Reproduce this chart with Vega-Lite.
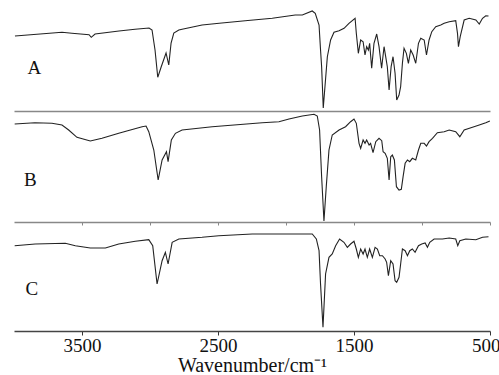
{
  "$schema": "https://vega.github.io/schema/vega-lite/v6.json",
  "padding": {"left": 12, "top": 0, "right": 0, "bottom": 0},
  "spacing": 0,
  "config": {"view": {"stroke": null}, "font": "Liberation Serif", "concat": {"spacing": 0}},
  "datasets": {
    "A": [
      {"wn":3993,"T":75},{"wn":3647,"T":78.7},{"wn":3574,"T":77.7},{"wn":3448,"T":76.3},{"wn":3432,"T":73.7},{"wn":3404,"T":77},{"wn":3228,"T":80},{"wn":3110,"T":81.7},{"wn":3007,"T":83},{"wn":2985,"T":81},{"wn":2963,"T":61},{"wn":2943,"T":33.7},{"wn":2918,"T":44},{"wn":2882,"T":58},{"wn":2862,"T":46},{"wn":2845,"T":68},{"wn":2825,"T":78},{"wn":2788,"T":81},{"wn":2764,"T":81.7},{"wn":2617,"T":86},{"wn":2491,"T":87.7},{"wn":2300,"T":90.3},{"wn":2101,"T":92.7},{"wn":1932,"T":96},{"wn":1880,"T":96},{"wn":1807,"T":100},{"wn":1785,"T":97.7},{"wn":1757,"T":86},{"wn":1746,"T":61},{"wn":1738,"T":44.3},{"wn":1726,"T":3},{"wn":1696,"T":54.3},{"wn":1672,"T":71},{"wn":1647,"T":78.7},{"wn":1610,"T":80.3},{"wn":1573,"T":82.7},{"wn":1537,"T":87.7},{"wn":1492,"T":92.7},{"wn":1483,"T":77.7},{"wn":1468,"T":57.7},{"wn":1451,"T":71},{"wn":1433,"T":69.3},{"wn":1419,"T":56},{"wn":1407,"T":64.3},{"wn":1394,"T":61},{"wn":1385,"T":67.7},{"wn":1370,"T":42.7},{"wn":1353,"T":67.7},{"wn":1333,"T":77},{"wn":1316,"T":64.3},{"wn":1297,"T":42.7},{"wn":1279,"T":64.3},{"wn":1267,"T":54.3},{"wn":1255,"T":44.3},{"wn":1242,"T":21},{"wn":1227,"T":44.3},{"wn":1213,"T":54.3},{"wn":1198,"T":37.7},{"wn":1186,"T":11},{"wn":1169,"T":16},{"wn":1157,"T":24.3},{"wn":1144,"T":47.7},{"wn":1132,"T":62.7},{"wn":1115,"T":57.7},{"wn":1100,"T":47.7},{"wn":1083,"T":61},{"wn":1065,"T":56},{"wn":1046,"T":47.7},{"wn":1026,"T":67.7},{"wn":1009,"T":72.7},{"wn":984,"T":71},{"wn":967,"T":56},{"wn":948,"T":71},{"wn":928,"T":79.3},{"wn":899,"T":84.3},{"wn":862,"T":86},{"wn":837,"T":87.7},{"wn":800,"T":89.3},{"wn":752,"T":90.3},{"wn":739,"T":77.7},{"wn":732,"T":64.3},{"wn":719,"T":74.3},{"wn":690,"T":91},{"wn":653,"T":92.7},{"wn":604,"T":91},{"wn":579,"T":87},{"wn":555,"T":92.7},{"wn":531,"T":95.3},{"wn":511,"T":95}
    ],
    "B": [
      {"wn":3995,"T":98},{"wn":3846,"T":99.3},{"wn":3721,"T":98.7},{"wn":3647,"T":97},{"wn":3598,"T":92},{"wn":3537,"T":84.7},{"wn":3439,"T":81},{"wn":3353,"T":83.7},{"wn":3230,"T":88.7},{"wn":3058,"T":95.3},{"wn":3029,"T":96},{"wn":3009,"T":90.3},{"wn":2972,"T":72},{"wn":2940,"T":42},{"wn":2911,"T":62},{"wn":2879,"T":70.3},{"wn":2867,"T":60.3},{"wn":2843,"T":82},{"wn":2813,"T":88.7},{"wn":2764,"T":92},{"wn":2543,"T":95.3},{"wn":2175,"T":99.3},{"wn":2052,"T":100.3},{"wn":1978,"T":103},{"wn":1880,"T":106},{"wn":1794,"T":107.7},{"wn":1770,"T":106},{"wn":1753,"T":92},{"wn":1738,"T":45.3},{"wn":1721,"T":1},{"wn":1704,"T":35.3},{"wn":1684,"T":72},{"wn":1660,"T":87},{"wn":1610,"T":92},{"wn":1562,"T":95.3},{"wn":1525,"T":100.3},{"wn":1500,"T":103},{"wn":1483,"T":98.7},{"wn":1463,"T":78.7},{"wn":1451,"T":73.7},{"wn":1433,"T":82},{"wn":1419,"T":78.7},{"wn":1407,"T":82},{"wn":1389,"T":77},{"wn":1378,"T":78.7},{"wn":1360,"T":69.3},{"wn":1340,"T":80.3},{"wn":1316,"T":83.7},{"wn":1296,"T":81.3},{"wn":1286,"T":70.3},{"wn":1271,"T":68.7},{"wn":1255,"T":63.7},{"wn":1242,"T":42},{"wn":1230,"T":65.3},{"wn":1218,"T":67},{"wn":1203,"T":62},{"wn":1188,"T":35.3},{"wn":1169,"T":32},{"wn":1152,"T":32.7},{"wn":1139,"T":45.3},{"wn":1124,"T":58.7},{"wn":1107,"T":62},{"wn":1090,"T":60.3},{"wn":1071,"T":63.7},{"wn":1046,"T":62},{"wn":1026,"T":72},{"wn":1009,"T":78.7},{"wn":984,"T":78.7},{"wn":967,"T":76},{"wn":948,"T":80.3},{"wn":923,"T":83.7},{"wn":887,"T":89.3},{"wn":837,"T":90.3},{"wn":800,"T":92},{"wn":752,"T":90.3},{"wn":722,"T":85.3},{"wn":690,"T":92},{"wn":629,"T":94.7},{"wn":579,"T":97},{"wn":531,"T":99.3},{"wn":501,"T":101}
    ],
    "C": [
      {"wn":3995,"T":85.3},{"wn":3844,"T":87},{"wn":3623,"T":87.7},{"wn":3549,"T":85.3},{"wn":3439,"T":83},{"wn":3328,"T":83},{"wn":3230,"T":87},{"wn":3108,"T":89.7},{"wn":3009,"T":91.3},{"wn":2980,"T":85.3},{"wn":2948,"T":47},{"wn":2911,"T":70.3},{"wn":2887,"T":78.7},{"wn":2867,"T":67},{"wn":2837,"T":88.7},{"wn":2788,"T":92},{"wn":2617,"T":93.7},{"wn":2494,"T":95.3},{"wn":2248,"T":97},{"wn":1807,"T":97},{"wn":1777,"T":92},{"wn":1757,"T":80.3},{"wn":1746,"T":47},{"wn":1728,"T":3.7},{"wn":1709,"T":57},{"wn":1684,"T":73.7},{"wn":1660,"T":77},{"wn":1635,"T":85.3},{"wn":1606,"T":92},{"wn":1574,"T":88.7},{"wn":1549,"T":83.7},{"wn":1525,"T":87},{"wn":1500,"T":89.7},{"wn":1483,"T":82},{"wn":1468,"T":73.7},{"wn":1451,"T":82},{"wn":1433,"T":77},{"wn":1419,"T":82},{"wn":1402,"T":73.7},{"wn":1385,"T":82},{"wn":1365,"T":73.7},{"wn":1345,"T":83.7},{"wn":1328,"T":82},{"wn":1311,"T":75.3},{"wn":1291,"T":75.3},{"wn":1271,"T":72},{"wn":1260,"T":68.7},{"wn":1247,"T":55.3},{"wn":1230,"T":70.3},{"wn":1213,"T":67},{"wn":1198,"T":50.3},{"wn":1186,"T":48.7},{"wn":1169,"T":53.7},{"wn":1157,"T":67},{"wn":1144,"T":82},{"wn":1124,"T":80.3},{"wn":1107,"T":75.3},{"wn":1090,"T":80.3},{"wn":1071,"T":82},{"wn":1051,"T":78.7},{"wn":1026,"T":85.3},{"wn":1002,"T":87},{"wn":977,"T":88},{"wn":960,"T":83.7},{"wn":943,"T":88.7},{"wn":911,"T":92},{"wn":850,"T":92},{"wn":800,"T":93},{"wn":752,"T":92},{"wn":737,"T":85.3},{"wn":722,"T":90.3},{"wn":678,"T":92},{"wn":604,"T":91.3},{"wn":555,"T":93.7},{"wn":511,"T":94.3}
    ]
  },
  "vconcat": [
    {
      "width": 476, "height": 111,
      "layer": [
        {
          "data": {"name": "A"},
          "mark": {"type": "line", "color": "#222222", "strokeWidth": 1.1},
          "encoding": {
            "x": {"field": "wn", "type": "quantitative", "scale": {"domain": [500, 4000], "reverse": true, "nice": false, "zero": false},
                  "axis": {"title": null, "labels": false, "ticks": false, "grid": false, "domainColor": "#888888", "domainWidth": 1.5}},
            "y": {"field": "T", "type": "quantitative", "scale": {"domain": [0, 111], "nice": false, "zero": false}, "axis": null}
          }
        },
        {
          "data": {"values": [{"wn": 3850, "T": 43, "label": "A"}]},
          "mark": {"type": "text", "fontSize": 19, "font": "Liberation Serif", "color": "#111111"},
          "encoding": {
            "x": {"field": "wn", "type": "quantitative"},
            "y": {"field": "T", "type": "quantitative"},
            "text": {"field": "label"}
          }
        }
      ]
    },
    {
      "width": 476, "height": 111,
      "layer": [
        {
          "data": {"name": "B"},
          "mark": {"type": "line", "color": "#222222", "strokeWidth": 1.1},
          "encoding": {
            "x": {"field": "wn", "type": "quantitative", "scale": {"domain": [500, 4000], "reverse": true, "nice": false, "zero": false},
                  "axis": {"title": null, "labels": false, "values": [3500, 3000, 2500, 2000, 1500, 1000, 500], "tickSize": 3, "tickColor": "#888888", "grid": false, "domainColor": "#888888", "domainWidth": 1.5}},
            "y": {"field": "T", "type": "quantitative", "scale": {"domain": [0, 111], "nice": false, "zero": false}, "axis": null}
          }
        },
        {
          "data": {"values": [{"wn": 3880, "T": 42, "label": "B"}]},
          "mark": {"type": "text", "fontSize": 19, "font": "Liberation Serif", "color": "#111111"},
          "encoding": {
            "x": {"field": "wn", "type": "quantitative"},
            "y": {"field": "T", "type": "quantitative"},
            "text": {"field": "label"}
          }
        }
      ]
    },
    {
      "width": 476, "height": 105,
      "layer": [
        {
          "data": {"name": "C"},
          "mark": {"type": "line", "color": "#222222", "strokeWidth": 1.1},
          "encoding": {
            "x": {"field": "wn", "type": "quantitative", "scale": {"domain": [500, 4000], "reverse": true, "nice": false, "zero": false},
                  "axis": {"title": "Wavenumber/cm⁻¹", "values": [3500, 2500, 1500, 500], "format": "d", "labelFlush": true, "labelFlushOffset": 10, "labelFontSize": 19, "labelFont": "Liberation Serif", "labelColor": "#111111", "labelPadding": 1, "tickSize": 4, "tickColor": "#333333", "grid": false, "domainColor": "#444444", "domainWidth": 1.5, "titleFontSize": 20, "titleFont": "Liberation Serif", "titleFontWeight": "normal", "titleColor": "#111111", "titlePadding": 0}},
            "y": {"field": "T", "type": "quantitative", "scale": {"domain": [0, 105], "nice": false, "zero": false}, "axis": null}
          }
        },
        {
          "data": {"values": [{"wn": 3868, "T": 42, "label": "C"}]},
          "mark": {"type": "text", "fontSize": 19, "font": "Liberation Serif", "color": "#111111"},
          "encoding": {
            "x": {"field": "wn", "type": "quantitative"},
            "y": {"field": "T", "type": "quantitative"},
            "text": {"field": "label"}
          }
        }
      ]
    }
  ]
}
